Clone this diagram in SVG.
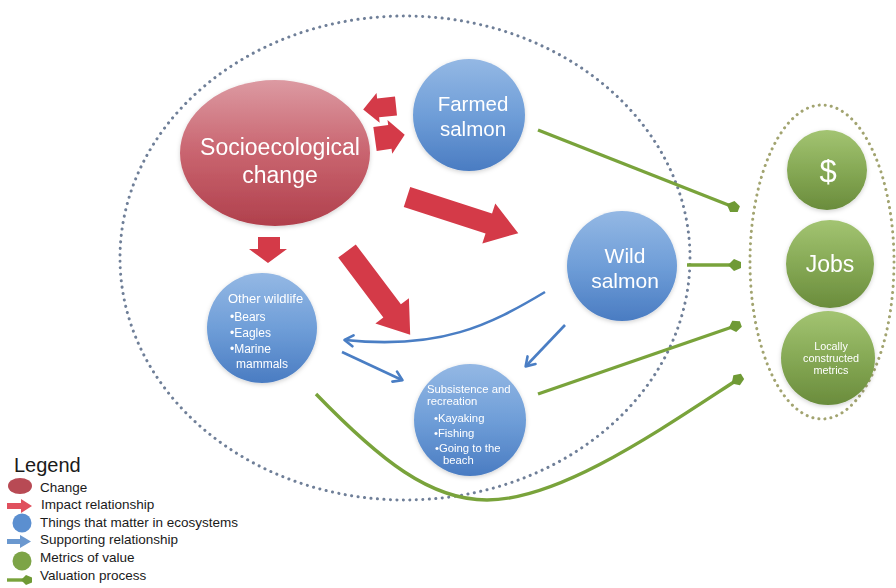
<svg xmlns="http://www.w3.org/2000/svg" width="896" height="588" viewBox="0 0 896 588">
<defs>
  <linearGradient id="gRed" x1="0" y1="0" x2="0" y2="1">
    <stop offset="0" stop-color="#dc9aa2"/>
    <stop offset="0.5" stop-color="#c9646f"/>
    <stop offset="1" stop-color="#b0404c"/>
  </linearGradient>
  <linearGradient id="gBlue" x1="0" y1="0" x2="0" y2="1">
    <stop offset="0" stop-color="#94b8e4"/>
    <stop offset="0.5" stop-color="#6f9ed8"/>
    <stop offset="1" stop-color="#4a7cc2"/>
  </linearGradient>
  <linearGradient id="gGreen" x1="0" y1="0" x2="0" y2="1">
    <stop offset="0" stop-color="#a3c472"/>
    <stop offset="0.5" stop-color="#86a955"/>
    <stop offset="1" stop-color="#6a8c3c"/>
  </linearGradient>
  <filter id="soft" x="-20%" y="-20%" width="140%" height="140%">
    <feDropShadow dx="0" dy="1.5" stdDeviation="2" flood-color="#000" flood-opacity="0.18"/>
  </filter>
  <marker id="mBlue" markerUnits="userSpaceOnUse" markerWidth="14" markerHeight="14" viewBox="-1 -7 12 14" refX="8" refY="0" orient="auto">
    <path d="M0,-5.5 L8.5,0 L0,5.5" fill="none" stroke="#4a7ec4" stroke-width="2.6" stroke-linejoin="round" stroke-linecap="round"/>
  </marker>
  <marker id="mGreen" markerUnits="userSpaceOnUse" markerWidth="16" markerHeight="16" viewBox="-1 -8 16 16" refX="10" refY="0" orient="auto">
    <path d="M0,0 L6,-6 L13,-3 L13,3 L6,6 Z" fill="#6f9a35"/>
  </marker>
</defs>
<style>
  .dotsBlue { fill: none; stroke: #6f7f98; stroke-width: 3; stroke-dasharray: 0.1 6.4; stroke-linecap: round; }
  .dotsGreen { fill: none; stroke: #a2a470; stroke-width: 3; stroke-dasharray: 0.1 6; stroke-linecap: round; }
  .red { fill: #d43a48; }
  .blueLine { fill: none; stroke: #4a7ec4; stroke-width: 2.6; marker-end: url(#mBlue); }
  .greenLine { fill: none; stroke: #79a33b; stroke-width: 3.4; marker-end: url(#mGreen); }
  .t { font-family: "Liberation Sans", Arial, sans-serif; fill: #ffffff; }
  .c { text-anchor: middle; }
  .lg { font-family: "Liberation Sans", Arial, sans-serif; fill: #1a1a1a; font-size: 13.5px; }
</style>
<rect x="0" y="0" width="896" height="588" fill="#ffffff"/>

<g id="boundaries">
  <ellipse class="dotsBlue" cx="405" cy="258" rx="285" ry="242"/>
  <ellipse class="dotsGreen" cx="822" cy="262" rx="72" ry="157"/>
</g>

<g id="connectors">
  <!-- valuation (green) -->
  <path class="greenLine" d="M538,130 L736,208"/>
  <path class="greenLine" d="M687,265 L738,265"/>
  <path class="greenLine" d="M538,394 L738,325"/>
  <path class="greenLine" d="M316,394 C380,460 430,500 487,500 C560,500 660,430 740,378"/>
  <!-- supporting (blue) -->
  <path class="blueLine" d="M545,292 C490,325 440,350 345,340"/>
  <path class="blueLine" d="M565,325 L526,366"/>
  <path class="blueLine" d="M342,352 L402,380"/>
  <!-- impact (red) -->
  <polygon class="red" transform="translate(396,106) rotate(174)" points="0,-9.5 18,-9.5 18,-15 33,0 18,15 18,9.5 0,9.5"/>
  <polygon class="red" transform="translate(375,139) rotate(-8)" points="0,-12 15,-12 15,-17 30,0 15,17 15,12 0,12"/>
  <polygon class="red" transform="translate(407,197) rotate(18)" points="0,-10.5 86,-10.5 86,-21 117,0 86,21 86,10.5 0,10.5"/>
  <polygon class="red" transform="translate(347,251) rotate(53)" points="0,-11 75,-11 75,-21 105,0 75,21 75,11 0,11"/>
  <polygon class="red" points="258,237 280,237 280,249 287,249 268,263 249,249 258,249"/>
</g>

<g id="node-socioecological-change" filter="url(#soft)">
  <ellipse cx="275" cy="153" rx="95" ry="73" fill="url(#gRed)"/>
  <text class="t c" x="280" y="155" font-size="23">Socioecological</text>
  <text class="t c" x="280" y="183" font-size="23">change</text>
</g>

<g id="node-farmed-salmon" filter="url(#soft)">
  <circle cx="469" cy="115" r="56" fill="url(#gBlue)"/>
  <text class="t c" x="473" y="111" font-size="20.5">Farmed</text>
  <text class="t c" x="473" y="136" font-size="20.5">salmon</text>
</g>

<g id="node-wild-salmon" filter="url(#soft)">
  <circle cx="622" cy="266" r="55" fill="url(#gBlue)"/>
  <text class="t c" x="625" y="263" font-size="21">Wild</text>
  <text class="t c" x="625" y="288" font-size="21">salmon</text>
</g>

<g id="node-other-wildlife" filter="url(#soft)">
  <circle cx="262" cy="328" r="55" fill="url(#gBlue)"/>
  <text class="t" x="228" y="303" font-size="13">Other wildlife</text>
  <text class="t" x="230" y="321" font-size="12">•Bears</text>
  <text class="t" x="230" y="337" font-size="12">•Eagles</text>
  <text class="t" x="230" y="353" font-size="12">•Marine</text>
  <text class="t" x="236" y="368" font-size="12">mammals</text>
</g>

<g id="node-subsistence-recreation" filter="url(#soft)">
  <circle cx="470" cy="420" r="56" fill="url(#gBlue)"/>
  <text class="t" x="427" y="393" font-size="11.3">Subsistence and</text>
  <text class="t" x="427" y="405" font-size="11.3">recreation</text>
  <text class="t" x="434" y="422" font-size="11.3">•Kayaking</text>
  <text class="t" x="434" y="437" font-size="11.3">•Fishing</text>
  <text class="t" x="435" y="452" font-size="11.3">•Going to the</text>
  <text class="t" x="443" y="464" font-size="11.3">beach</text>
</g>

<g id="node-dollar" filter="url(#soft)">
  <circle cx="827" cy="170" r="40" fill="url(#gGreen)"/>
  <text class="t c" x="828" y="182" font-size="31">$</text>
</g>

<g id="node-jobs" filter="url(#soft)">
  <circle cx="830" cy="264" r="44" fill="url(#gGreen)"/>
  <text class="t c" x="830" y="272" font-size="23">Jobs</text>
</g>

<g id="node-local-metrics" filter="url(#soft)">
  <circle cx="828" cy="358" r="47" fill="url(#gGreen)"/>
  <text class="t c" x="831" y="350" font-size="10.8">Locally</text>
  <text class="t c" x="831" y="362" font-size="10.8">constructed</text>
  <text class="t c" x="831" y="374" font-size="10.8">metrics</text>
</g>

<g id="legend">
  <text x="14" y="472" font-family="Liberation Sans, Arial, sans-serif" font-size="20" fill="#1a1a1a">Legend</text>
  <ellipse cx="20" cy="486" rx="12" ry="8" fill="#b84a54"/>
  <text class="lg" x="40" y="492">Change</text>
  <polygon points="7,503 21,503 21,499 32,506 21,513 21,509 7,509" fill="#e0505e"/>
  <text class="lg" x="41" y="509">Impact relationship</text>
  <circle cx="22" cy="523" r="9.5" fill="#5b8fd0"/>
  <text class="lg" x="40" y="527">Things that matter in ecosystems</text>
  <polygon points="7,539 20,539 20,535 31,541.5 20,548 20,544 7,544" fill="#6b98cf"/>
  <text class="lg" x="40" y="544">Supporting relationship</text>
  <circle cx="22" cy="561" r="9.5" fill="#7da447"/>
  <text class="lg" x="40" y="562">Metrics of value</text>
  <line x1="7" y1="580" x2="24" y2="580" stroke="#79a33b" stroke-width="3.4"/>
  <path d="M21,580 L26,575 L32,577.5 L32,582.5 L26,585 Z" fill="#6f9a35"/>
  <text class="lg" x="40" y="580">Valuation process</text>
</g>
</svg>
